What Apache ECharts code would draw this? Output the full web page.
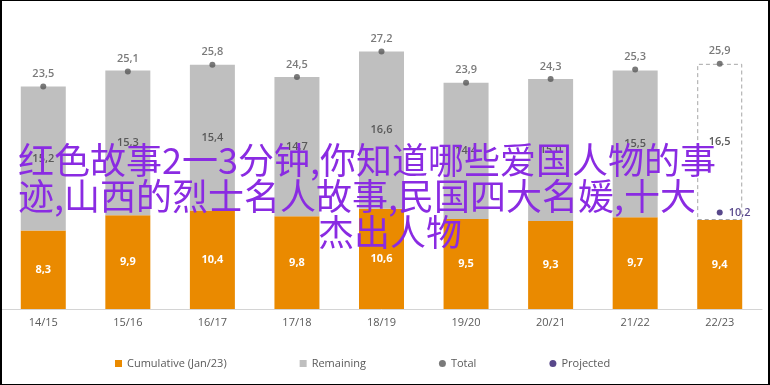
<!DOCTYPE html>
<html>
<head>
<meta charset="utf-8">
<script src="https://cdn.jsdelivr.net/npm/echarts@6/dist/echarts.min.js"></script>
<style>
html,body{margin:0;padding:0;background:#fff;}
#wrap{position:relative;width:770px;height:385px;}
#chart{position:absolute;left:0;top:0;width:770px;height:385px;}
#frame{position:absolute;left:0;top:0;width:770px;height:385px;box-sizing:border-box;border-top:1px solid #000;border-left:2px solid #000;border-right:2px solid #000;border-bottom:1px solid #000;pointer-events:none;}
</style>
</head>
<body>
<div id="wrap"><div id="chart"></div><div id="frame"></div></div>
<script>
const categories = ['14/15','15/16','16/17','17/18','18/19','19/20','20/21','21/22','22/23'];
const cumulative = [8.3, 9.9, 10.4, 9.8, 10.6, 9.5, 9.3, 9.7, 9.4];
const remaining = [15.2, 15.3, 15.4, 14.7, 16.6, 14.4, 15.0, 15.5, 16.5];
const total = [23.5, 25.1, 25.8, 24.5, 27.2, 23.9, 24.3, 25.3, 25.9];
const projected = [null, null, null, null, null, null, null, null, 10.2];
const overlayLines = ['红色故事2一3分钟,你知道哪些爱国人物的事', '迹,山西的烈士名人故事,民国四大名媛,十大', '杰出人物'];

const fmt = v => (typeof v === 'number' ? v : v.value).toFixed(1).replace('.', ',');
const FONT = '"Open Sans", sans-serif';
const chart = echarts.init(document.getElementById('chart'));

const remainingData = remaining.map((v, i) => i === remaining.length - 1
  ? {value: v, itemStyle: {color: '#ffffff', borderColor: '#a6a6a6', borderWidth: 1, borderType: [4, 3]}}
  : v);

chart.setOption({
  animation: false,
  grid: {left: 1, right: 8, top: 25, bottom: 76, containLabel: false},
  xAxis: {
    type: 'category', data: categories,
    axisLine: {lineStyle: {color: '#d4d4d4'}},
    axisTick: {show: false},
    axisLabel: {color: '#595959', fontSize: 11, fontFamily: FONT, margin: 8}
  },
  yAxis: {type: 'value', min: 0, max: 30, show: false, splitLine: {show: false}},
  legend: {
    left: 110, top: 353, itemWidth: 7, itemHeight: 7, itemGap: 73,
    textStyle: {color: '#595959', fontSize: 11, fontFamily: FONT},
    data: [
      {name: 'Cumulative (Jan/23)', icon: 'rect'},
      {name: 'Remaining', icon: 'rect'},
      {name: 'Total', icon: 'circle'},
      {name: 'Projected', icon: 'circle'}
    ]
  },
  series: [
    {
      name: 'Cumulative (Jan/23)', type: 'bar', stack: 's', barWidth: 45,
      data: cumulative, itemStyle: {color: '#EA8A00'},
      label: {show: true, position: 'inside', color: '#ffffff', fontWeight: 'bold', fontSize: 11, fontFamily: FONT, formatter: p => fmt(p.value)}
    },
    {
      name: 'Remaining', type: 'bar', stack: 's', barWidth: 45,
      data: remainingData, itemStyle: {color: '#BFBFBF'},
      label: {show: true, position: 'inside', color: '#595959', fontWeight: 600, fontSize: 11, fontFamily: FONT, formatter: p => fmt(p.value)}
    },
    {
      name: 'Total', type: 'scatter', data: total, symbol: 'circle', symbolSize: 6,
      itemStyle: {color: '#595959'}, z: 5,
      label: {show: true, position: 'top', distance: 4, color: '#595959', fontWeight: 600, fontSize: 11, fontFamily: FONT, formatter: p => fmt(p.value)}
    },
    {
      name: 'Projected', type: 'scatter', data: projected, symbol: 'circle', symbolSize: 6,
      itemStyle: {color: '#2E1A6E'}, z: 5,
      label: {show: true, position: 'right', distance: 6, color: '#2E1A6E', fontWeight: 600, fontSize: 11, fontFamily: FONT, formatter: p => fmt(p.value)}
    }
  ],
  graphic: [
    {type: 'text', left: 18, top: 142, z: 100, style: {text: overlayLines[0], fill: '#8A2BE2', font: '36px "Noto Sans CJK SC"'}},
    {type: 'text', left: 18, top: 178, z: 100, style: {text: overlayLines[1], fill: '#8A2BE2', font: '36px "Noto Sans CJK SC"'}},
    {type: 'text', left: 318, top: 214, z: 100, style: {text: overlayLines[2], fill: '#8A2BE2', font: '36px "Noto Sans CJK SC"'}}
  ]
});
</script>
</body>
</html>
